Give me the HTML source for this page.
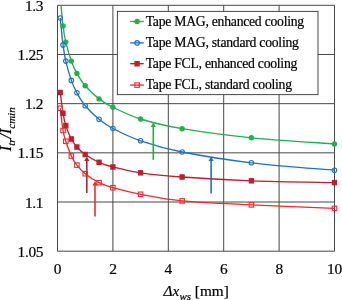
<!DOCTYPE html>
<html><head><meta charset="utf-8"><title>chart</title>
<style>
html,body{margin:0;padding:0;background:#fff;}
body{width:342px;height:300px;overflow:hidden;position:relative;}
text{font-family:"Liberation Serif","DejaVu Serif",serif;fill:#000;stroke:#000;stroke-width:0.2px;}
.t{font-size:15.4px;letter-spacing:-0.28px;}
.a{font-size:15.3px;}
.l{font-size:13.7px;letter-spacing:-0.25px;}
</style></head><body>
<svg width="342" height="300" viewBox="0 0 342 300" style="position:absolute;left:0;top:0;display:block;will-change:transform;">
<rect x="0" y="0" width="342" height="300" fill="#fff"/>
<line x1="57.50" y1="5.30" x2="57.50" y2="251.20" stroke="#484848" stroke-width="1"/>
<line x1="112.90" y1="5.30" x2="112.90" y2="251.20" stroke="#484848" stroke-width="1"/>
<line x1="168.30" y1="5.30" x2="168.30" y2="251.20" stroke="#484848" stroke-width="1"/>
<line x1="223.70" y1="5.30" x2="223.70" y2="251.20" stroke="#484848" stroke-width="1"/>
<line x1="279.10" y1="5.30" x2="279.10" y2="251.20" stroke="#484848" stroke-width="1"/>
<line x1="334.50" y1="5.30" x2="334.50" y2="251.20" stroke="#484848" stroke-width="1"/>
<line x1="57.50" y1="5.30" x2="334.50" y2="5.30" stroke="#484848" stroke-width="1"/>
<line x1="57.50" y1="54.48" x2="334.50" y2="54.48" stroke="#484848" stroke-width="1"/>
<line x1="57.50" y1="103.66" x2="334.50" y2="103.66" stroke="#484848" stroke-width="1"/>
<line x1="57.50" y1="152.84" x2="334.50" y2="152.84" stroke="#484848" stroke-width="1"/>
<line x1="57.50" y1="202.02" x2="334.50" y2="202.02" stroke="#484848" stroke-width="1"/>
<line x1="57.50" y1="251.20" x2="334.50" y2="251.20" stroke="#484848" stroke-width="1"/>
<defs><clipPath id="c"><rect x="53.50" y="5.30" width="285.00" height="245.90"/></clipPath></defs>
<g clip-path="url(#c)" fill="none" stroke-width="1.35" stroke-linejoin="round">
<path d="M60.27,-3.00 C60.73,1.83 62.12,18.48 63.04,26.00 C63.96,33.52 64.42,36.25 65.81,42.10 C67.20,47.95 69.50,55.88 71.35,61.10 C73.20,66.32 74.58,69.28 76.89,73.40 C79.20,77.52 81.51,81.55 85.20,85.80 C88.89,90.05 94.43,95.32 99.05,98.90 C103.67,102.48 105.98,103.95 112.90,107.30 C119.83,110.65 129.06,115.43 140.60,119.00 C152.14,122.57 163.68,125.57 182.15,128.70 C200.62,131.83 226.01,135.27 251.40,137.80 C276.79,140.33 320.65,142.88 334.50,143.90" stroke="#23af4b"/>
<path d="M60.27,18.00 C60.73,22.48 62.12,37.72 63.04,44.90 C63.96,52.08 64.42,55.18 65.81,61.10 C67.20,67.02 69.50,75.12 71.35,80.40 C73.20,85.68 74.58,88.58 76.89,92.80 C79.20,97.02 81.51,101.30 85.20,105.70 C88.89,110.10 94.43,115.40 99.05,119.20 C103.67,123.00 105.98,124.90 112.90,128.50 C119.83,132.10 129.06,136.88 140.60,140.80 C152.14,144.72 163.68,148.33 182.15,152.00 C200.62,155.67 226.01,159.77 251.40,162.80 C276.79,165.83 320.65,168.97 334.50,170.20" stroke="#1f72be"/>
<path d="M60.27,92.50 C60.73,95.97 62.12,107.78 63.04,113.30 C63.96,118.82 64.42,121.32 65.81,125.60 C67.20,129.88 69.50,135.43 71.35,139.00 C73.20,142.57 74.58,144.42 76.89,147.00 C79.20,149.58 81.51,151.95 85.20,154.50 C88.89,157.05 94.43,160.22 99.05,162.30 C103.67,164.38 105.98,165.25 112.90,167.00 C119.83,168.75 129.06,171.13 140.60,172.80 C152.14,174.47 163.68,175.67 182.15,177.00 C200.62,178.33 226.01,179.87 251.40,180.80 C276.79,181.73 320.65,182.30 334.50,182.60" stroke="#be1e2d"/>
<path d="M60.27,108.30 C60.73,112.00 62.12,125.00 63.04,130.50 C63.96,136.00 64.42,137.05 65.81,141.30 C67.20,145.55 69.50,152.03 71.35,156.00 C73.20,159.97 74.58,162.15 76.89,165.10 C79.20,168.05 81.51,170.78 85.20,173.70 C88.89,176.62 94.43,180.27 99.05,182.60 C103.67,184.93 105.98,185.75 112.90,187.70 C119.83,189.65 129.06,192.10 140.60,194.30 C152.14,196.50 163.68,199.13 182.15,200.90 C200.62,202.67 226.01,203.65 251.40,204.90 C276.79,206.15 320.65,207.82 334.50,208.40" stroke="#ee2b2e"/>
</g>
<line x1="153.30" y1="159.80" x2="153.30" y2="125.00" stroke="#23af4b" stroke-width="1.6"/><path d="M153.30,122.50 L150.70,126.90 L155.90,126.90 Z" fill="#23af4b"/>
<line x1="211.10" y1="193.50" x2="211.10" y2="159.10" stroke="#1f72be" stroke-width="1.6"/><path d="M211.10,156.60 L208.50,161.00 L213.70,161.00 Z" fill="#1f72be"/>
<line x1="86.80" y1="193.10" x2="86.80" y2="159.00" stroke="#be1e2d" stroke-width="1.6"/><path d="M86.80,156.50 L84.20,160.90 L89.40,160.90 Z" fill="#be1e2d"/>
<line x1="95.00" y1="216.50" x2="95.00" y2="183.50" stroke="#ee2b2e" stroke-width="1.6"/><path d="M95.00,181.00 L92.40,185.40 L97.60,185.40 Z" fill="#ee2b2e"/>
<circle cx="63.04" cy="26.00" r="2.7" fill="#23af4b"/>
<circle cx="65.81" cy="42.10" r="2.7" fill="#23af4b"/>
<circle cx="71.35" cy="61.10" r="2.7" fill="#23af4b"/>
<circle cx="76.89" cy="73.40" r="2.7" fill="#23af4b"/>
<circle cx="85.20" cy="85.80" r="2.7" fill="#23af4b"/>
<circle cx="99.05" cy="98.90" r="2.7" fill="#23af4b"/>
<circle cx="112.90" cy="107.30" r="2.7" fill="#23af4b"/>
<circle cx="140.60" cy="119.00" r="2.7" fill="#23af4b"/>
<circle cx="182.15" cy="128.70" r="2.7" fill="#23af4b"/>
<circle cx="251.40" cy="137.80" r="2.7" fill="#23af4b"/>
<circle cx="334.50" cy="143.90" r="2.7" fill="#23af4b"/>
<circle cx="60.27" cy="18.00" r="2.25" fill="none" stroke="#1f72be" stroke-width="1.1"/>
<circle cx="63.04" cy="44.90" r="2.25" fill="none" stroke="#1f72be" stroke-width="1.1"/>
<circle cx="65.81" cy="61.10" r="2.25" fill="none" stroke="#1f72be" stroke-width="1.1"/>
<circle cx="71.35" cy="80.40" r="2.25" fill="none" stroke="#1f72be" stroke-width="1.1"/>
<circle cx="76.89" cy="92.80" r="2.25" fill="none" stroke="#1f72be" stroke-width="1.1"/>
<circle cx="85.20" cy="105.70" r="2.25" fill="none" stroke="#1f72be" stroke-width="1.1"/>
<circle cx="99.05" cy="119.20" r="2.25" fill="none" stroke="#1f72be" stroke-width="1.1"/>
<circle cx="112.90" cy="128.50" r="2.25" fill="none" stroke="#1f72be" stroke-width="1.1"/>
<circle cx="140.60" cy="140.80" r="2.25" fill="none" stroke="#1f72be" stroke-width="1.1"/>
<circle cx="182.15" cy="152.00" r="2.25" fill="none" stroke="#1f72be" stroke-width="1.1"/>
<circle cx="251.40" cy="162.80" r="2.25" fill="none" stroke="#1f72be" stroke-width="1.1"/>
<circle cx="334.50" cy="170.20" r="2.25" fill="none" stroke="#1f72be" stroke-width="1.1"/>
<rect x="57.62" y="89.75" width="5.3" height="5.5" fill="#be1e2d"/>
<rect x="60.39" y="110.55" width="5.3" height="5.5" fill="#be1e2d"/>
<rect x="63.16" y="122.85" width="5.3" height="5.5" fill="#be1e2d"/>
<rect x="68.70" y="136.25" width="5.3" height="5.5" fill="#be1e2d"/>
<rect x="74.24" y="144.25" width="5.3" height="5.5" fill="#be1e2d"/>
<rect x="82.55" y="151.75" width="5.3" height="5.5" fill="#be1e2d"/>
<rect x="96.40" y="159.55" width="5.3" height="5.5" fill="#be1e2d"/>
<rect x="110.25" y="164.25" width="5.3" height="5.5" fill="#be1e2d"/>
<rect x="137.95" y="170.05" width="5.3" height="5.5" fill="#be1e2d"/>
<rect x="179.50" y="174.25" width="5.3" height="5.5" fill="#be1e2d"/>
<rect x="248.75" y="178.05" width="5.3" height="5.5" fill="#be1e2d"/>
<rect x="331.85" y="179.85" width="5.3" height="5.5" fill="#be1e2d"/>
<rect x="58.02" y="106.05" width="4.5" height="4.5" fill="none" stroke="#ee2b2e" stroke-width="1.1"/>
<rect x="60.79" y="128.25" width="4.5" height="4.5" fill="none" stroke="#ee2b2e" stroke-width="1.1"/>
<rect x="63.56" y="139.05" width="4.5" height="4.5" fill="none" stroke="#ee2b2e" stroke-width="1.1"/>
<rect x="69.10" y="153.75" width="4.5" height="4.5" fill="none" stroke="#ee2b2e" stroke-width="1.1"/>
<rect x="74.64" y="162.85" width="4.5" height="4.5" fill="none" stroke="#ee2b2e" stroke-width="1.1"/>
<rect x="82.95" y="171.45" width="4.5" height="4.5" fill="none" stroke="#ee2b2e" stroke-width="1.1"/>
<rect x="96.80" y="180.35" width="4.5" height="4.5" fill="none" stroke="#ee2b2e" stroke-width="1.1"/>
<rect x="110.65" y="185.45" width="4.5" height="4.5" fill="none" stroke="#ee2b2e" stroke-width="1.1"/>
<rect x="138.35" y="192.05" width="4.5" height="4.5" fill="none" stroke="#ee2b2e" stroke-width="1.1"/>
<rect x="179.90" y="198.65" width="4.5" height="4.5" fill="none" stroke="#ee2b2e" stroke-width="1.1"/>
<rect x="249.15" y="202.65" width="4.5" height="4.5" fill="none" stroke="#ee2b2e" stroke-width="1.1"/>
<rect x="332.25" y="206.15" width="4.5" height="4.5" fill="none" stroke="#ee2b2e" stroke-width="1.1"/>
<rect x="117.4" y="11.4" width="200.6" height="83.2" fill="#fff" stroke="#484848" stroke-width="1"/>
<line x1="130.2" y1="21.50" x2="143.8" y2="21.50" stroke="#23af4b" stroke-width="1.35"/>
<circle cx="137.10" cy="21.50" r="2.7" fill="#23af4b"/>
<text x="145.7" y="25.50" class="l">Tape MAG, enhanced cooling</text>
<line x1="130.2" y1="42.90" x2="143.8" y2="42.90" stroke="#1f72be" stroke-width="1.35"/>
<circle cx="137.10" cy="42.90" r="2.25" fill="none" stroke="#1f72be" stroke-width="1.1"/>
<text x="145.7" y="46.90" class="l">Tape MAG, standard cooling</text>
<line x1="130.2" y1="63.70" x2="143.8" y2="63.70" stroke="#be1e2d" stroke-width="1.35"/>
<rect x="134.45" y="60.95" width="5.3" height="5.5" fill="#be1e2d"/>
<text x="145.7" y="67.70" class="l">Tape FCL, enhanced cooling</text>
<line x1="130.2" y1="85.10" x2="143.8" y2="85.10" stroke="#ee2b2e" stroke-width="1.35"/>
<rect x="134.85" y="82.85" width="4.5" height="4.5" fill="none" stroke="#ee2b2e" stroke-width="1.1"/>
<text x="145.7" y="89.10" class="l">Tape FCL, standard cooling</text>
<text x="43.3" y="10.90" class="t" text-anchor="end">1.3</text>
<text x="43.3" y="60.08" class="t" text-anchor="end">1.25</text>
<text x="43.3" y="109.26" class="t" text-anchor="end">1.2</text>
<text x="43.3" y="158.44" class="t" text-anchor="end">1.15</text>
<text x="43.3" y="207.62" class="t" text-anchor="end">1.1</text>
<text x="43.3" y="256.80" class="t" text-anchor="end">1.05</text>
<text x="57.50" y="274.4" class="t" text-anchor="middle">0</text>
<text x="112.90" y="274.4" class="t" text-anchor="middle">2</text>
<text x="168.30" y="274.4" class="t" text-anchor="middle">4</text>
<text x="223.70" y="274.4" class="t" text-anchor="middle">6</text>
<text x="279.10" y="274.4" class="t" text-anchor="middle">8</text>
<text x="334.50" y="274.4" class="t" text-anchor="middle">10</text>
<text x="163.6" y="295.5" class="a"><tspan font-style="italic">Δx</tspan><tspan font-style="italic" font-size="11" dy="4.2">ws</tspan><tspan dy="-4.2"> [mm]</tspan></text>
<text transform="translate(10.5,151.2) rotate(-90)" class="a" style="font-size:16px" font-style="italic">I<tspan font-size="11" dy="4.4">tr</tspan><tspan dy="-4.4">/I</tspan><tspan font-size="11" dy="4.4">cmin</tspan></text>
</svg>
</body></html>
